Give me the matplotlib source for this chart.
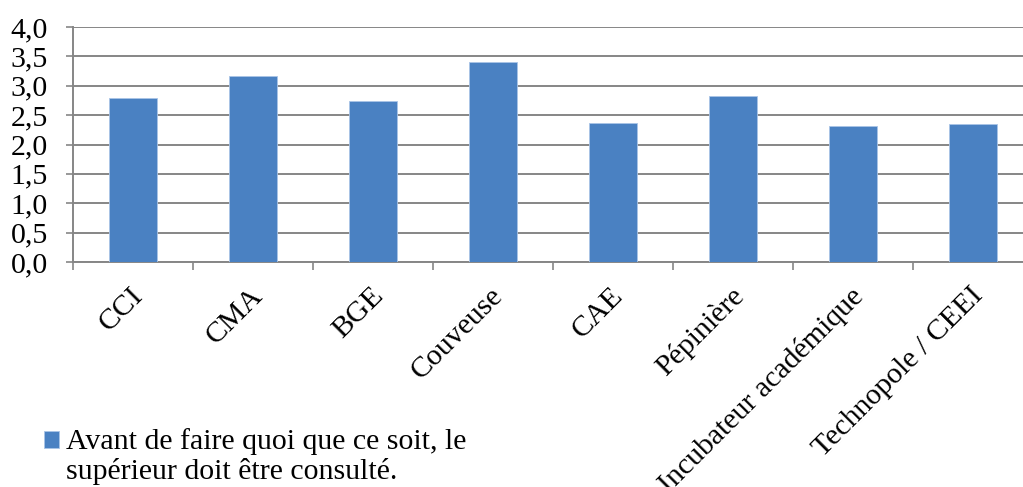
import matplotlib
matplotlib.use("Agg")
import matplotlib.pyplot as plt
import matplotlib.transforms as mtransforms
import numpy as np

categories = ["CCI", "CMA", "BGE", "Couveuse", "CAE", "Pépinière",
              "Incubateur académique", "Technopole / CEEI"]
values = [2.80, 3.17, 2.74, 3.40, 2.36, 2.82, 2.31, 2.35]
series_label = "Avant de faire quoi que ce soit, le\nsupérieur doit être consulté."
yticks = [0.0, 0.5, 1.0, 1.5, 2.0, 2.5, 3.0, 3.5, 4.0]

plt.rcParams['font.family'] = ['Liberation Serif', 'DejaVu Serif']
fs = 21.5
grey = '#868686'
blue = '#4A81C2'

fig = plt.figure(figsize=(10.23, 4.87), dpi=100)
# axes extends a little past the right edge of the picture, as in the original
ax = fig.add_axes([73 / 1023, 225 / 487, 960 / 1023, 235 / 487])

x = np.arange(len(categories))
ax.bar(x, values, width=0.4, color=blue, edgecolor='#A9C4E6', linewidth=0.6,
       label=series_label, zorder=3)

ax.set_xlim(-0.5, len(categories) - 0.5)
ax.set_ylim(0, 4)
ax.set_yticks(yticks)
ax.set_yticklabels([f"{v:.1f}".replace('.', ',') for v in yticks], fontsize=fs)
ax.yaxis.grid(True, color=grey, linewidth=1.4, zorder=0)
ax.set_axisbelow(True)

ax.set_xticks(x)
ax.set_xticklabels(categories, fontsize=fs, rotation=45, ha='right',
                   va='top', rotation_mode='anchor')
ax.set_xticks(np.arange(-0.5, len(categories), 1.0), minor=True)
ax.tick_params(axis='x', which='major', length=0, pad=15)
ax.tick_params(axis='x', which='minor', length=6, width=1.2, color=grey)
ax.tick_params(axis='y', length=5, width=1.2, color=grey, pad=13)
shift = mtransforms.ScaledTranslation(-2 / 72, 0, fig.dpi_scale_trans)
for lab in ax.get_xticklabels():
    lab.set_transform(lab.get_transform() + shift)

for side in ['top', 'right']:
    ax.spines[side].set_visible(False)
for side in ['left', 'bottom']:
    ax.spines[side].set_color(grey)
    ax.spines[side].set_linewidth(1.4)

leg = fig.legend(loc='upper left', bbox_to_anchor=(44 / 1023, 1 - 428 / 487),
                 frameon=False, fontsize=fs, handlelength=0.5, handleheight=0.5,
                 handletextpad=0.25, borderpad=0, borderaxespad=0)
for t in leg.get_texts():
    t.set_linespacing(1.15)
# put the square next to the first line
h = leg.legend_handles[0]
h.set_y(h.get_y() + fs * 0.55)

fig.savefig("out.png", dpi=100)
